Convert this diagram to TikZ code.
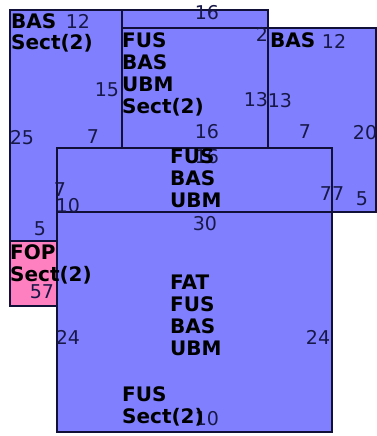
\documentclass[tikz,border=0pt]{standalone}
\usepackage{fontspec}
\setmainfont{DejaVu Sans}
\usetikzlibrary{positioning}
\definecolor{segblue}{RGB}{128,128,255}
\definecolor{segpink}{RGB}{255,128,192}
\definecolor{segedge}{RGB}{16,16,56}
\definecolor{segnum}{RGB}{24,24,72}
\tikzset{
  seg/.style={draw=segedge, line width=1.5pt, fill=segblue},
  segpk/.style={seg, fill=segpink},
  % multi-line codes sit on the baseline of their last line
  codes/.style={anchor=base west, inner sep=0pt, align=left,
                font=\fontsize{20}{21.7}\selectfont\bfseries},
  dim/.style={inner sep=0pt, text=segnum, font=\fontsize{19}{21.7}\selectfont},
}

\begin{document}
\begin{tikzpicture}[x=1pt, y=-1pt]
  \useasboundingbox (0,0) rectangle (377,436);
  % segments, back to front
  \draw[seg]   (10,10)   rectangle (122,241);
  \draw[segpk] (10,241)  rectangle (57,306);
  \draw[seg]   (122,10)  rectangle (268,28);
  \draw[seg]   (122,28)  rectangle (268,148);
  \draw[seg]   (268,28)  rectangle (376,212);
  \draw[seg]   (57,148)  rectangle (332,212);
  \draw[seg]   (57,212)  rectangle (332,432);
  % dimensions
  \node[dim] (lw)   at (78,21)   {12};
  \node[dim] (lr)   at (107,90)  {15};
  \node[dim] (lh)   at (22,138)  {25};
  \node[dim] (lb)   at (93,137)  {7};
  \node[dim] (lbot) at (40,229)  {5};
  \node[dim] (tt)   at (207,13)  {16};
  \node[dim] (tr)   at (262,34)  {2};
  \node[dim] (th)   at (256,100) {13};
  \node[dim] (tb)   at (207,132) {16};
  \node[dim] (rw)   at (334,41)  {12};
  \node[dim] (rl)   at (280,101) {13};
  \node[dim] (rb)   at (305,132) {7};
  \node[dim] (rh)   at (365,133) {20};
  \node[dim] (rbot) at (362,199) {5};
  \node[dim] (rmid) at (332,194) {77};
  \node[dim] (mt)   at (207,157) {16};
  \node[dim] (ml)   at (60,190)  {7};
  \node[dim] (bl)   at (68,206)  {10};
  \node[dim] (bt)   at (205,224) {30};
  \node[dim] (pb)   at (42,292)  {57};
  \node[dim] (bh)   at (68,337)  {24};
  \node[dim] (bh2)  at (318,337) {24};
  \node[dim] (bb)   at (207,419) {10};
  % codes
  \node[codes] (lcode)  at (11,50)   {BAS\\Sect(2)};
  \node[codes] (tcode)  at (122,113) {FUS\\BAS\\UBM\\Sect(2)};
  \node[codes] (rcode)  at (270,48)  {BAS};
  \node[codes] (mcode)  at (170,207) {FUS\\BAS\\UBM};
  \node[codes] (pcode)  at (10,281)  {FOP\\Sect(2)};
  \node[codes] (bcode)  at (170,355) {FAT\\FUS\\BAS\\UBM};
  \node[codes] (bcode2) at (122,423) {FUS\\Sect(2)};
\end{tikzpicture}
\end{document}
